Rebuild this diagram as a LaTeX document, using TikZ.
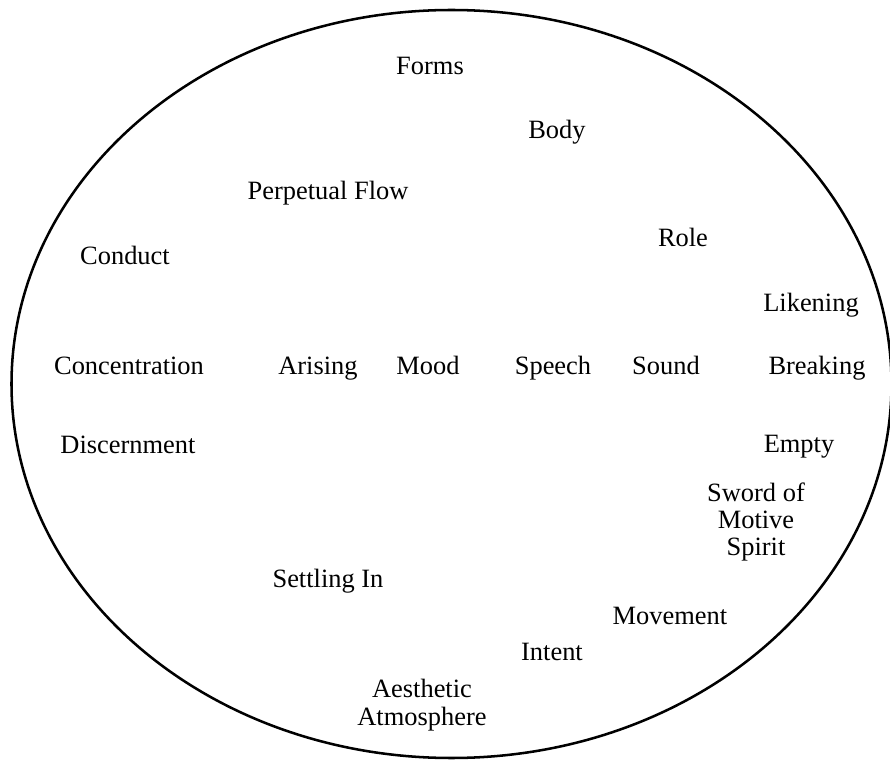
\documentclass[tikz,border=0pt]{standalone}
\usepackage{fontspec}
\setmainfont{Liberation Serif}
\begin{document}
\begin{tikzpicture}[x=0.025cm, y=-0.025cm,
      every node/.style={align=center, font=\fontsize{18.8}{19.5}\selectfont},
      word/.style={anchor=base},]
      \useasboundingbox (0,0) rectangle (890,761);
      \draw[line width=1.8pt] (451.5,384) ellipse (440 and 374);
      % top part
      \node[word] (forms) at (430,75) {Forms};
      \node[word] (body) at (557,139) {Body};
      \node[word] (flow) at (328,200) {Perpetual Flow};
      \node[word] (conduct) at (125,265) {Conduct};
      \node[word] (role) at (683,247) {Role};
      \node[word] (likening) at (811,312) {Likening};
      % middle row
      \node[word] (concentration) at (129,375) {Concentration};
      \node[word] (arising) at (318,375) {Arising};
      \node[word] (mood) at (428,375) {Mood};
      \node[word] (speech) at (553,375) {Speech};
      \node[word] (sound) at (666,375) {Sound};
      \node[word] (breaking) at (817,375) {Breaking};
      % bottom part
      \node[word] (discernment) at (128,454) {Discernment};
      \node[word] (empty) at (799,453) {Empty};
      \node (sword) at (756,522) {Sword of\\Motive\\Spirit};
      \node[word] (settling) at (328,588) {Settling In};
      \node[word] (movement) at (670,624) {Movement};
      \node[word] (intent) at (552,660) {Intent};
      \node (aesthetic) at (422,705) {Aesthetic\\Atmosphere};
    \end{tikzpicture}
\end{document}
